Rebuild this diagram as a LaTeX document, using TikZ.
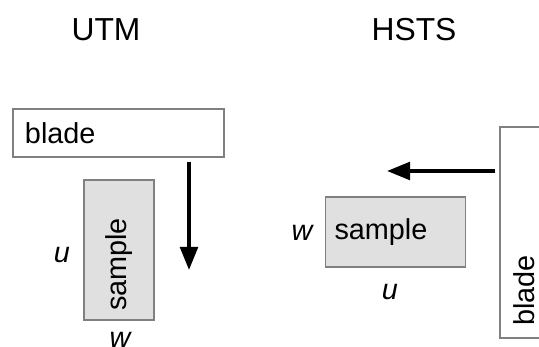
\documentclass[tikz,border=0pt]{standalone}
\usepackage{fontspec}
\setmainfont{Liberation Sans}
\usetikzlibrary{arrows.meta}

\begin{document}
\begin{tikzpicture}[
  box/.style={draw=black!50, line width=0.6pt, font=\fontsize{16.4}{18}\selectfont, align=left},
  bladebox/.style={box, fill=white, inner xsep=0.24cm, minimum width=4.22cm, minimum height=0.96cm, text width=3.74cm},
  samplebox/.style={box, fill=black!12, inner xsep=0.18cm, minimum width=2.8cm, minimum height=1.4cm, text width=2.44cm},
  dim/.style={font=\fontsize{16.4}{18}\selectfont\itshape},
  title/.style={font=\fontsize{18.1}{20}\selectfont},
  push/.style={-{Triangle[length=0.46cm,width=0.35cm]}, line width=2.2pt, shorten <=2.3pt}]
\useasboundingbox (0,0) rectangle (10.78,6.94);
\clip (0,0) rectangle (10.78,6.94);

%titles
\node[title] (utm) at (2.12,6.34) {UTM};
\node[title] (hsts) at (8.28,6.34) {HSTS};

%UTM: blade moves down onto the upright sample
\node[bladebox] (bladeU) at (2.37,4.28) {blade};
\node[samplebox, rotate=90] (sampleU) at (2.38,1.94) {sample};
\coordinate (pushU) at (3.78,1.54);
\draw[push] (pushU |- bladeU.south) -- (pushU);
\node[dim] (uU) at (1.24,1.84) {u};
\node[dim] (wU) at (2.40,0.14) {w};

%HSTS: blade moves left onto the lying sample
\node[bladebox, rotate=90] (bladeH) at (10.48,2.29) {blade};
\node[samplebox] (sampleH) at (7.91,2.30) {sample};
\coordinate (pushH) at (7.74,3.52);
\draw[push] (bladeH.north |- pushH) -- (pushH);
\node[dim] (wH) at (6.04,2.28) {w};
\node[dim] (uH) at (7.80,1.10) {u};
\end{tikzpicture}
\end{document}
